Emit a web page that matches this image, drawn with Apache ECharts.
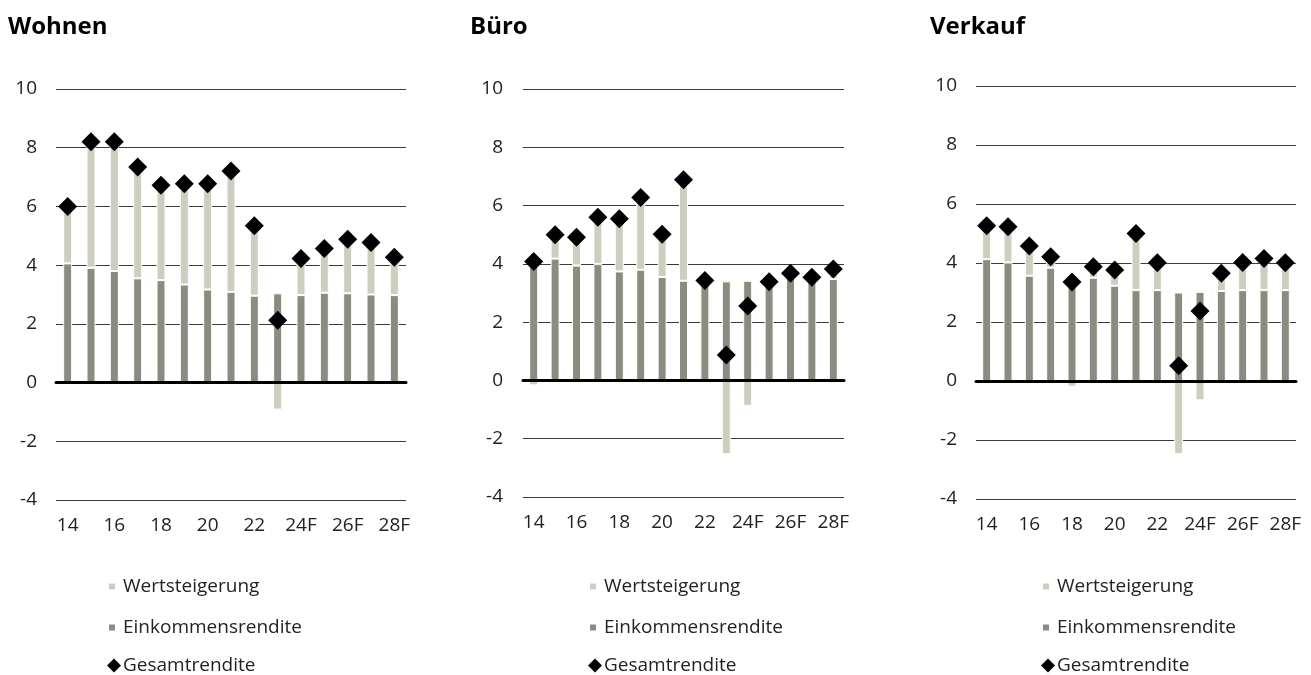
<!DOCTYPE html>
<html><head><meta charset="utf-8">
<script src="https://cdn.jsdelivr.net/npm/echarts@6/dist/echarts.min.js"></script>
<style>html,body{margin:0;padding:0;background:#fff}#c{width:1311px;height:675px}</style>
</head><body><div id="c"></div>
<script>
const categories = ['14','15','16','17','18','19','20','21','22','23','24F','25F','26F','27F','28F'];
const panelTitles = ['Wohnen','Büro','Verkauf'];
// Einkommensrendite
const incomeWohnen = [4.06,3.91,3.80,3.55,3.49,3.34,3.17,3.09,2.96,3.04,2.98,3.06,3.04,3.00,2.98];
const incomeBuero = [4.25,4.18,3.94,3.99,3.74,3.80,3.55,3.42,3.43,3.40,3.42,3.39,3.60,3.54,3.48];
const incomeVerkauf = [4.13,4.02,3.57,3.84,3.55,3.50,3.23,3.08,3.08,3.00,3.02,3.05,3.08,3.08,3.08];
// Gesamtrendite
const totalWohnen = [6.00,8.20,8.20,7.34,6.72,6.77,6.77,7.21,5.34,2.12,4.23,4.57,4.88,4.77,4.27];
const totalBuero = [4.08,5.00,4.91,5.60,5.55,6.28,5.02,6.89,3.43,0.87,2.55,3.39,3.68,3.54,3.82];
const totalVerkauf = [5.26,5.23,4.58,4.21,3.36,3.87,3.76,5.00,4.01,0.52,2.37,3.65,4.02,4.15,4.01];
// Wertsteigerung
const wertWohnen = [1.94,4.29,4.40,3.79,3.23,3.43,3.60,4.12,2.38,-0.92,1.25,1.51,1.84,1.77,1.29];
const wertBuero = [-0.17,0.82,0.97,1.61,1.81,2.48,1.47,3.47,0.00,-2.53,-0.87,0.00,0.08,0.00,0.34];
const wertVerkauf = [1.13,1.21,1.01,0.37,-0.19,0.37,0.53,1.92,0.93,-2.48,-0.65,0.60,0.94,1.07,0.93];
const legendNames = ['Wertsteigerung','Einkommensrendite','Gesamtrendite'];

const panels = [
  {income: incomeWohnen, wert: wertWohnen, total: totalWohnen},
  {income: incomeBuero, wert: wertBuero, total: totalBuero},
  {income: incomeVerkauf, wert: wertVerkauf, total: totalVerkauf}
];
const grids = [
  {left: 56, top: 89, width: 350, height: 411},
  {left: 523, top: 89, width: 321, height: 408},
  {left: 976, top: 86, width: 320, height: 413}
];
const yLabelMargin = [19, 20, 19];
const titleX = [8, 470, 930];
const legendX = [107, 588, 1041];
const FONT = '"Open Sans", "Noto Sans", sans-serif';
const C_INC = '#8c8b80', C_WERT = '#cfcdc0';

const chart = echarts.init(document.getElementById('c'), null, {renderer: 'canvas'});
const legends = [];
panels.forEach((p, i) => {
  legends.push({
    orient: 'vertical', left: legendX[i], top: 577, itemGap: 22, padding: 0,
    itemWidth: 8, itemHeight: 8,
    textStyle: {fontFamily: FONT, fontSize: 19, color: '#222', padding: [0,0,0,2]},
    data: [{name: legendNames[0], icon: 'rect'}, {name: legendNames[1], icon: 'rect'}]
  });
  legends.push({
    orient: 'vertical', left: legendX[i], top: 656, padding: 0,
    itemWidth: 14, itemHeight: 14,
    textStyle: {fontFamily: FONT, fontSize: 19, color: '#222', padding: [0,0,0,-3]},
    data: [{name: legendNames[2], icon: 'diamond'}]
  });
});
const option = {
  animation: false,
  backgroundColor: '#fff',
  textStyle: {fontFamily: FONT},
  title: panelTitles.map((t, i) => ({
    text: t, left: titleX[i], top: 15, padding: 0,
    textStyle: {fontFamily: FONT, fontSize: 24, fontWeight: 'bold', color: '#000'}
  })),
  grid: grids.map(g => Object.assign({containLabel: false}, g)),
  legend: legends,
  xAxis: panels.map((p, i) => ({
    type: 'category', gridIndex: i, data: categories, z: 10,
    axisLine: {onZero: true, lineStyle: {color: '#000', width: 3}},
    axisTick: {show: false},
    axisLabel: {interval: 1, fontSize: 19, color: '#222', margin: 16, fontFamily: FONT}
  })),
  yAxis: panels.map((p, i) => ({
    type: 'value', gridIndex: i, min: -4, max: 10, interval: 2,
    axisLine: {show: false}, axisTick: {show: false},
    axisLabel: {fontSize: 19, color: '#222', margin: yLabelMargin[i], fontFamily: FONT},
    splitLine: {lineStyle: {color: '#3a3a3a', width: 1}}
  })),
  series: []
};
panels.forEach((p, i) => {
  option.series.push({
    name: 'Einkommensrendite', type: 'bar', xAxisIndex: i, yAxisIndex: i, stack: 's' + i,
    data: p.income, barWidth: 9,
    itemStyle: {color: C_INC, borderColor: '#fff', borderWidth: 1}
  });
  option.series.push({
    name: 'Wertsteigerung', type: 'bar', xAxisIndex: i, yAxisIndex: i, stack: 's' + i,
    data: p.wert, barWidth: 9,
    itemStyle: {color: C_WERT, borderColor: '#fff', borderWidth: 1}
  });
  option.series.push({
    name: 'Gesamtrendite', type: 'scatter', xAxisIndex: i, yAxisIndex: i,
    data: p.total, symbol: 'diamond', symbolSize: 19, z: 20,
    itemStyle: {color: '#000', opacity: 1}
  });
});
chart.setOption(option);
</script></body></html>
